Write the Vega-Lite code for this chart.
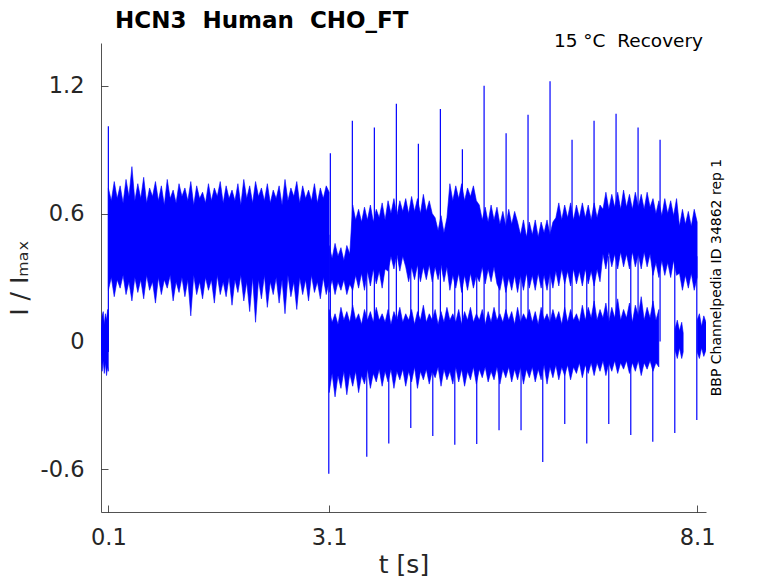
{
"$schema": "https://vega.github.io/schema/vega-lite/v6.json",
"width": 605, "height": 469,
"autosize": {"type": "none"},
"padding": {"left": 101, "top": 43, "right": 72, "bottom": 71},
"config": {"view": {"stroke": null}, "font": "DejaVu Sans"},
"title": {"text": "HCN3\u00a0 Human\u00a0 CHO_FT", "anchor": "start", "frame": "group", "dx": 14, "dy": 15, "offset": 14, "fontSize": 23, "fontWeight": "bold", "font": "DejaVu Sans", "color": "#000000"},
"datasets": {
"bands": [
{"b":"D","t":0,"l":-0.06,"h":0.06},{"b":"D","t":0.015,"l":-0.14,"h":0.12},{"b":"D","t":0.03,"l":-0.09,"h":0.14},{"b":"D","t":0.045,"l":-0.15,"h":0.08},{"b":"D","t":0.06,"l":-0.1,"h":0.13},{"b":"D","t":0.075,"l":-0.16,"h":0.1},{"b":"D","t":0.09,"l":-0.12,"h":0.15},{"b":"D","t":0.1,"l":-0.14,"h":0.12},
{"b":"A","t":0.10,"l":0.24,"h":0.72},{"b":"A","t":0.14,"l":0.30,"h":0.66},{"b":"A","t":0.18,"l":0.21,"h":0.75},{"b":"A","t":0.22,"l":0.29,"h":0.67},{"b":"A","t":0.26,"l":0.25,"h":0.73},{"b":"A","t":0.30,"l":0.31,"h":0.65},{"b":"A","t":0.34,"l":0.22,"h":0.76},{"b":"A","t":0.38,"l":0.28,"h":0.68},{"b":"A","t":0.42,"l":0.19,"h":0.82},{"b":"A","t":0.46,"l":0.30,"h":0.66},
{"b":"A","t":0.50,"l":0.23,"h":0.74},{"b":"A","t":0.54,"l":0.29,"h":0.67},{"b":"A","t":0.58,"l":0.20,"h":0.77},{"b":"A","t":0.62,"l":0.31,"h":0.65},{"b":"A","t":0.66,"l":0.24,"h":0.72},{"b":"A","t":0.70,"l":0.28,"h":0.68},{"b":"A","t":0.74,"l":0.18,"h":0.75},{"b":"A","t":0.78,"l":0.30,"h":0.66},{"b":"A","t":0.82,"l":0.22,"h":0.73},{"b":"A","t":0.86,"l":0.29,"h":0.64},
{"b":"A","t":0.90,"l":0.25,"h":0.76},{"b":"A","t":0.94,"l":0.31,"h":0.67},{"b":"A","t":0.98,"l":0.19,"h":0.71},{"b":"A","t":1.02,"l":0.28,"h":0.65},{"b":"A","t":1.06,"l":0.23,"h":0.74},{"b":"A","t":1.10,"l":0.30,"h":0.68},{"b":"A","t":1.14,"l":0.21,"h":0.72},{"b":"A","t":1.18,"l":0.29,"h":0.66},{"b":"A","t":1.22,"l":0.12,"h":0.75},{"b":"A","t":1.26,"l":0.31,"h":0.64},
{"b":"A","t":1.30,"l":0.22,"h":0.73},{"b":"A","t":1.34,"l":0.28,"h":0.67},{"b":"A","t":1.38,"l":0.20,"h":0.70},{"b":"A","t":1.42,"l":0.30,"h":0.65},{"b":"A","t":1.46,"l":0.24,"h":0.74},{"b":"A","t":1.50,"l":0.29,"h":0.66},{"b":"A","t":1.54,"l":0.18,"h":0.72},{"b":"A","t":1.58,"l":0.31,"h":0.68},{"b":"A","t":1.62,"l":0.22,"h":0.75},{"b":"A","t":1.66,"l":0.28,"h":0.65},
{"b":"A","t":1.70,"l":0.21,"h":0.73},{"b":"A","t":1.74,"l":0.30,"h":0.67},{"b":"A","t":1.78,"l":0.17,"h":0.71},{"b":"A","t":1.82,"l":0.29,"h":0.66},{"b":"A","t":1.86,"l":0.23,"h":0.74},{"b":"A","t":1.90,"l":0.31,"h":0.64},{"b":"A","t":1.94,"l":0.19,"h":0.76},{"b":"A","t":1.98,"l":0.28,"h":0.67},{"b":"A","t":2.02,"l":0.14,"h":0.73},{"b":"A","t":2.06,"l":0.30,"h":0.65},
{"b":"A","t":2.10,"l":0.09,"h":0.75},{"b":"A","t":2.14,"l":0.29,"h":0.68},{"b":"A","t":2.18,"l":0.20,"h":0.72},{"b":"A","t":2.22,"l":0.31,"h":0.66},{"b":"A","t":2.26,"l":0.16,"h":0.74},{"b":"A","t":2.30,"l":0.28,"h":0.65},{"b":"A","t":2.34,"l":0.22,"h":0.71},{"b":"A","t":2.38,"l":0.30,"h":0.67},{"b":"A","t":2.42,"l":0.18,"h":0.73},{"b":"A","t":2.46,"l":0.29,"h":0.64},
{"b":"A","t":2.50,"l":0.13,"h":0.76},{"b":"A","t":2.54,"l":0.31,"h":0.66},{"b":"A","t":2.58,"l":0.21,"h":0.72},{"b":"A","t":2.62,"l":0.28,"h":0.68},{"b":"A","t":2.66,"l":0.15,"h":0.75},{"b":"A","t":2.70,"l":0.30,"h":0.65},{"b":"A","t":2.74,"l":0.22,"h":0.73},{"b":"A","t":2.78,"l":0.29,"h":0.67},{"b":"A","t":2.82,"l":0.19,"h":0.71},{"b":"A","t":2.86,"l":0.31,"h":0.66},
{"b":"A","t":2.90,"l":0.23,"h":0.74},{"b":"A","t":2.94,"l":0.28,"h":0.65},{"b":"A","t":2.98,"l":0.20,"h":0.72},{"b":"A","t":3.02,"l":0.30,"h":0.67},{"b":"A","t":3.06,"l":0.22,"h":0.73},{"b":"A","t":3.10,"l":0.28,"h":0.70},
{"b":"B","t":3.10,"l":-0.24,"h":0.15},{"b":"B","t":3.14,"l":-0.15,"h":0.09},{"b":"B","t":3.18,"l":-0.26,"h":0.13},{"b":"B","t":3.22,"l":-0.16,"h":0.08},{"b":"B","t":3.26,"l":-0.22,"h":0.16},{"b":"B","t":3.30,"l":-0.14,"h":0.10},{"b":"B","t":3.34,"l":-0.25,"h":0.14},{"b":"B","t":3.38,"l":-0.15,"h":0.09},{"b":"B","t":3.42,"l":-0.21,"h":0.17},{"b":"B","t":3.46,"l":-0.14,"h":0.10},
{"b":"B","t":3.50,"l":-0.24,"h":0.13},{"b":"B","t":3.54,"l":-0.16,"h":0.08},{"b":"B","t":3.58,"l":-0.20,"h":0.15},{"b":"B","t":3.62,"l":-0.13,"h":0.10},{"b":"B","t":3.66,"l":-0.22,"h":0.14},{"b":"B","t":3.70,"l":-0.15,"h":0.09},{"b":"B","t":3.74,"l":-0.19,"h":0.16},{"b":"B","t":3.78,"l":-0.13,"h":0.10},{"b":"B","t":3.82,"l":-0.21,"h":0.13},{"b":"B","t":3.86,"l":-0.14,"h":0.09},
{"b":"B","t":3.90,"l":-0.19,"h":0.15},{"b":"B","t":3.94,"l":-0.13,"h":0.08},{"b":"B","t":3.98,"l":-0.22,"h":0.14},{"b":"B","t":4.02,"l":-0.14,"h":0.10},{"b":"B","t":4.06,"l":-0.18,"h":0.16},{"b":"B","t":4.10,"l":-0.13,"h":0.09},{"b":"B","t":4.14,"l":-0.21,"h":0.13},{"b":"B","t":4.18,"l":-0.14,"h":0.10},{"b":"B","t":4.22,"l":-0.19,"h":0.15},{"b":"B","t":4.26,"l":-0.12,"h":0.08},
{"b":"B","t":4.30,"l":-0.22,"h":0.14},{"b":"B","t":4.34,"l":-0.14,"h":0.10},{"b":"B","t":4.38,"l":-0.18,"h":0.17},{"b":"B","t":4.42,"l":-0.13,"h":0.09},{"b":"B","t":4.46,"l":-0.20,"h":0.13},{"b":"B","t":4.50,"l":-0.14,"h":0.10},{"b":"B","t":4.54,"l":-0.17,"h":0.15},{"b":"B","t":4.58,"l":-0.12,"h":0.08},{"b":"B","t":4.62,"l":-0.21,"h":0.14},{"b":"B","t":4.66,"l":-0.13,"h":0.09},
{"b":"B","t":4.70,"l":-0.18,"h":0.16},{"b":"B","t":4.74,"l":-0.14,"h":0.10},{"b":"B","t":4.78,"l":-0.20,"h":0.13},{"b":"B","t":4.82,"l":-0.12,"h":0.09},{"b":"B","t":4.86,"l":-0.19,"h":0.15},{"b":"B","t":4.90,"l":-0.13,"h":0.08},{"b":"B","t":4.94,"l":-0.21,"h":0.14},{"b":"B","t":4.98,"l":-0.14,"h":0.10},{"b":"B","t":5.02,"l":-0.18,"h":0.16},{"b":"B","t":5.06,"l":-0.12,"h":0.09},
{"b":"B","t":5.10,"l":-0.20,"h":0.13},{"b":"B","t":5.14,"l":-0.13,"h":0.10},{"b":"B","t":5.18,"l":-0.17,"h":0.15},{"b":"B","t":5.22,"l":-0.12,"h":0.08},{"b":"B","t":5.26,"l":-0.19,"h":0.14},{"b":"B","t":5.30,"l":-0.14,"h":0.09},{"b":"B","t":5.34,"l":-0.18,"h":0.16},{"b":"B","t":5.38,"l":-0.12,"h":0.10},{"b":"B","t":5.42,"l":-0.20,"h":0.13},{"b":"B","t":5.46,"l":-0.13,"h":0.09},
{"b":"B","t":5.50,"l":-0.17,"h":0.15},{"b":"B","t":5.54,"l":-0.12,"h":0.10},{"b":"B","t":5.58,"l":-0.19,"h":0.14},{"b":"B","t":5.62,"l":-0.13,"h":0.08},{"b":"B","t":5.66,"l":-0.18,"h":0.16},{"b":"B","t":5.70,"l":-0.12,"h":0.09},{"b":"B","t":5.74,"l":-0.20,"h":0.13},{"b":"B","t":5.78,"l":-0.13,"h":0.10},{"b":"B","t":5.82,"l":-0.17,"h":0.15},{"b":"B","t":5.86,"l":-0.12,"h":0.09},
{"b":"B","t":5.90,"l":-0.19,"h":0.14},{"b":"B","t":5.94,"l":-0.13,"h":0.08},{"b":"B","t":5.98,"l":-0.18,"h":0.16},{"b":"B","t":6.02,"l":-0.11,"h":0.10},{"b":"B","t":6.06,"l":-0.20,"h":0.13},{"b":"B","t":6.10,"l":-0.12,"h":0.09},{"b":"B","t":6.14,"l":-0.17,"h":0.15},{"b":"B","t":6.18,"l":-0.11,"h":0.10},{"b":"B","t":6.22,"l":-0.18,"h":0.14},{"b":"B","t":6.26,"l":-0.12,"h":0.08},
{"b":"B","t":6.30,"l":-0.16,"h":0.16},{"b":"B","t":6.34,"l":-0.11,"h":0.09},{"b":"B","t":6.38,"l":-0.18,"h":0.15},{"b":"B","t":6.42,"l":-0.12,"h":0.10},{"b":"B","t":6.46,"l":-0.15,"h":0.13},{"b":"B","t":6.50,"l":-0.10,"h":0.09},{"b":"B","t":6.54,"l":-0.17,"h":0.17},{"b":"B","t":6.58,"l":-0.11,"h":0.10},{"b":"B","t":6.62,"l":-0.15,"h":0.16},{"b":"B","t":6.66,"l":-0.10,"h":0.11},
{"b":"B","t":6.70,"l":-0.16,"h":0.19},{"b":"B","t":6.74,"l":-0.10,"h":0.10},{"b":"B","t":6.78,"l":-0.14,"h":0.15},{"b":"B","t":6.82,"l":-0.09,"h":0.11},{"b":"B","t":6.86,"l":-0.16,"h":0.18},{"b":"B","t":6.90,"l":-0.10,"h":0.09},{"b":"B","t":6.94,"l":-0.14,"h":0.16},{"b":"B","t":6.98,"l":-0.09,"h":0.11},{"b":"B","t":7.02,"l":-0.15,"h":0.20},{"b":"B","t":7.06,"l":-0.10,"h":0.10},
{"b":"B","t":7.10,"l":-0.13,"h":0.15},{"b":"B","t":7.14,"l":-0.09,"h":0.11},{"b":"B","t":7.18,"l":-0.15,"h":0.18},{"b":"B","t":7.22,"l":-0.10,"h":0.09},{"b":"B","t":7.26,"l":-0.14,"h":0.17},{"b":"B","t":7.30,"l":-0.09,"h":0.12},{"b":"B","t":7.34,"l":-0.16,"h":0.21},{"b":"B","t":7.38,"l":-0.10,"h":0.10},{"b":"B","t":7.42,"l":-0.13,"h":0.16},{"b":"B","t":7.46,"l":-0.09,"h":0.11},
{"b":"B","t":7.50,"l":-0.14,"h":0.19},{"b":"B","t":7.54,"l":-0.10,"h":0.10},{"b":"B","t":7.58,"l":-0.12,"h":0.15},
{"b":"C","t":3.10,"l":0.23,"h":0.45},{"b":"C","t":3.14,"l":0.29,"h":0.39},{"b":"C","t":3.18,"l":0.22,"h":0.46},{"b":"C","t":3.22,"l":0.28,"h":0.40},{"b":"C","t":3.26,"l":0.24,"h":0.44},{"b":"C","t":3.30,"l":0.29,"h":0.38},{"b":"C","t":3.34,"l":0.22,"h":0.45},{"b":"C","t":3.38,"l":0.27,"h":0.41},{"b":"C","t":3.42,"l":0.24,"h":0.64},{"b":"C","t":3.46,"l":0.31,"h":0.57},
{"b":"C","t":3.50,"l":0.25,"h":0.62},{"b":"C","t":3.54,"l":0.32,"h":0.56},{"b":"C","t":3.58,"l":0.24,"h":0.63},{"b":"C","t":3.62,"l":0.33,"h":0.57},{"b":"C","t":3.66,"l":0.26,"h":0.64},{"b":"C","t":3.70,"l":0.34,"h":0.56},{"b":"C","t":3.74,"l":0.27,"h":0.62},{"b":"C","t":3.78,"l":0.33,"h":0.58},{"b":"C","t":3.82,"l":0.25,"h":0.65},{"b":"C","t":3.86,"l":0.34,"h":0.57},
{"b":"C","t":3.90,"l":0.33,"h":0.66},{"b":"C","t":3.94,"l":0.40,"h":0.60},{"b":"C","t":3.98,"l":0.34,"h":0.67},{"b":"C","t":4.02,"l":0.41,"h":0.59},{"b":"C","t":4.06,"l":0.33,"h":0.66},{"b":"C","t":4.10,"l":0.40,"h":0.61},{"b":"C","t":4.14,"l":0.35,"h":0.67},{"b":"C","t":4.18,"l":0.28,"h":0.60},{"b":"C","t":4.22,"l":0.35,"h":0.68},{"b":"C","t":4.26,"l":0.29,"h":0.61},
{"b":"C","t":4.30,"l":0.36,"h":0.67},{"b":"C","t":4.34,"l":0.28,"h":0.60},{"b":"C","t":4.38,"l":0.35,"h":0.69},{"b":"C","t":4.42,"l":0.29,"h":0.61},{"b":"C","t":4.46,"l":0.36,"h":0.66},{"b":"C","t":4.50,"l":0.28,"h":0.60},{"b":"C","t":4.54,"l":0.35,"h":0.58},{"b":"C","t":4.58,"l":0.29,"h":0.52},{"b":"C","t":4.62,"l":0.36,"h":0.59},{"b":"C","t":4.66,"l":0.28,"h":0.51},
{"b":"C","t":4.70,"l":0.35,"h":0.58},{"b":"C","t":4.74,"l":0.24,"h":0.74},{"b":"C","t":4.78,"l":0.31,"h":0.66},{"b":"C","t":4.82,"l":0.25,"h":0.73},{"b":"C","t":4.86,"l":0.32,"h":0.67},{"b":"C","t":4.90,"l":0.23,"h":0.74},{"b":"C","t":4.94,"l":0.31,"h":0.66},{"b":"C","t":4.98,"l":0.24,"h":0.72},{"b":"C","t":5.02,"l":0.32,"h":0.68},{"b":"C","t":5.06,"l":0.25,"h":0.73},
{"b":"C","t":5.10,"l":0.31,"h":0.66},{"b":"C","t":5.14,"l":0.28,"h":0.64},{"b":"C","t":5.18,"l":0.35,"h":0.57},{"b":"C","t":5.22,"l":0.27,"h":0.63},{"b":"C","t":5.26,"l":0.34,"h":0.56},{"b":"C","t":5.30,"l":0.28,"h":0.64},{"b":"C","t":5.34,"l":0.35,"h":0.57},{"b":"C","t":5.38,"l":0.27,"h":0.63},{"b":"C","t":5.42,"l":0.24,"h":0.55},{"b":"C","t":5.46,"l":0.31,"h":0.61},
{"b":"C","t":5.50,"l":0.23,"h":0.54},{"b":"C","t":5.54,"l":0.30,"h":0.62},{"b":"C","t":5.58,"l":0.24,"h":0.55},{"b":"C","t":5.62,"l":0.31,"h":0.61},{"b":"C","t":5.66,"l":0.23,"h":0.56},{"b":"C","t":5.70,"l":0.31,"h":0.50},{"b":"C","t":5.74,"l":0.24,"h":0.57},{"b":"C","t":5.78,"l":0.32,"h":0.49},{"b":"C","t":5.82,"l":0.25,"h":0.56},{"b":"C","t":5.86,"l":0.31,"h":0.50},
{"b":"C","t":5.90,"l":0.24,"h":0.57},{"b":"C","t":5.94,"l":0.32,"h":0.49},{"b":"C","t":5.98,"l":0.25,"h":0.56},{"b":"C","t":6.02,"l":0.31,"h":0.51},{"b":"C","t":6.06,"l":0.24,"h":0.57},{"b":"C","t":6.10,"l":0.32,"h":0.50},{"b":"C","t":6.14,"l":0.25,"h":0.56},{"b":"C","t":6.18,"l":0.33,"h":0.58},{"b":"C","t":6.22,"l":0.26,"h":0.65},{"b":"C","t":6.26,"l":0.34,"h":0.57},
{"b":"C","t":6.30,"l":0.27,"h":0.64},{"b":"C","t":6.34,"l":0.33,"h":0.58},{"b":"C","t":6.38,"l":0.26,"h":0.65},{"b":"C","t":6.42,"l":0.34,"h":0.57},{"b":"C","t":6.46,"l":0.27,"h":0.64},{"b":"C","t":6.50,"l":0.33,"h":0.58},{"b":"C","t":6.54,"l":0.26,"h":0.65},{"b":"C","t":6.58,"l":0.34,"h":0.58},{"b":"C","t":6.62,"l":0.27,"h":0.64},{"b":"C","t":6.66,"l":0.33,"h":0.57},
{"b":"C","t":6.70,"l":0.26,"h":0.65},{"b":"C","t":6.74,"l":0.34,"h":0.58},{"b":"C","t":6.78,"l":0.28,"h":0.64},{"b":"C","t":6.82,"l":0.41,"h":0.62},{"b":"C","t":6.86,"l":0.34,"h":0.70},{"b":"C","t":6.90,"l":0.42,"h":0.62},{"b":"C","t":6.94,"l":0.35,"h":0.69},{"b":"C","t":6.98,"l":0.41,"h":0.63},{"b":"C","t":7.02,"l":0.34,"h":0.70},{"b":"C","t":7.06,"l":0.42,"h":0.62},
{"b":"C","t":7.10,"l":0.35,"h":0.71},{"b":"C","t":7.14,"l":0.41,"h":0.63},{"b":"C","t":7.18,"l":0.34,"h":0.69},{"b":"C","t":7.22,"l":0.42,"h":0.62},{"b":"C","t":7.26,"l":0.35,"h":0.70},{"b":"C","t":7.30,"l":0.41,"h":0.63},{"b":"C","t":7.34,"l":0.34,"h":0.69},{"b":"C","t":7.38,"l":0.42,"h":0.62},{"b":"C","t":7.42,"l":0.35,"h":0.70},{"b":"C","t":7.46,"l":0.41,"h":0.63},
{"b":"C","t":7.50,"l":0.31,"h":0.67},{"b":"C","t":7.54,"l":0.37,"h":0.60},{"b":"C","t":7.58,"l":0.30,"h":0.66},{"b":"C","t":7.62,"l":0.38,"h":0.59},{"b":"C","t":7.66,"l":0.31,"h":0.67},{"b":"C","t":7.70,"l":0.37,"h":0.60},{"b":"C","t":7.74,"l":0.30,"h":0.66},{"b":"C","t":7.78,"l":0.38,"h":0.59},{"b":"C","t":7.82,"l":0.31,"h":0.67},{"b":"C","t":7.86,"l":0.32,"h":0.54},
{"b":"C","t":7.90,"l":0.24,"h":0.62},{"b":"C","t":7.94,"l":0.31,"h":0.55},{"b":"C","t":7.98,"l":0.25,"h":0.61},{"b":"C","t":8.02,"l":0.32,"h":0.54},{"b":"C","t":8.06,"l":0.24,"h":0.62},{"b":"C","t":8.10,"l":0.30,"h":0.56},
{"b":"E","t":7.80,"l":-0.04,"h":0.06},{"b":"E","t":7.83,"l":-0.08,"h":0.10},{"b":"E","t":7.86,"l":-0.03,"h":0.05},{"b":"E","t":7.89,"l":-0.08,"h":0.09},{"b":"E","t":7.91,"l":-0.05,"h":0.04},
{"b":"F","t":8.10,"l":-0.05,"h":0.10},{"b":"F","t":8.13,"l":-0.08,"h":0.13},{"b":"F","t":8.16,"l":-0.03,"h":0.07},{"b":"F","t":8.19,"l":-0.07,"h":0.12},{"b":"F","t":8.22,"l":-0.04,"h":0.09}
],
"spikes": [
{"t":0.1,"l":-0.05,"h":1.01},
{"t":3.116,"l":0,"h":0.883},{"t":3.415,"l":0,"h":1.035},{"t":3.714,"l":0,"h":1.004},{"t":4.013,"l":0,"h":1.115},{"t":4.312,"l":0,"h":0.927},{"t":4.611,"l":0,"h":1.09},{"t":4.91,"l":0,"h":0.902},{"t":5.205,"l":0,"h":1.2},{"t":5.504,"l":0,"h":0.977},{"t":5.802,"l":0,"h":1.064},{"t":6.101,"l":0,"h":1.22},{"t":6.4,"l":0,"h":0.946},{"t":6.699,"l":0,"h":1.035},{"t":6.998,"l":0,"h":1.068},{"t":7.297,"l":0,"h":1.004},{"t":7.596,"l":0,"h":0.946},
{"t":3.095,"l":-0.621,"h":0.5},{"t":3.611,"l":-0.541,"h":0.4},{"t":3.91,"l":-0.479,"h":0.4},{"t":4.209,"l":-0.406,"h":0.4},{"t":4.508,"l":-0.444,"h":0.4},{"t":4.807,"l":-0.485,"h":0.4},{"t":5.105,"l":-0.481,"h":0.4},{"t":5.408,"l":-0.416,"h":0.4},{"t":5.707,"l":-0.416,"h":0.4},{"t":6.002,"l":-0.565,"h":0.4},{"t":6.301,"l":-0.387,"h":0.4},{"t":6.6,"l":-0.479,"h":0.4},{"t":6.899,"l":-0.387,"h":0.4},{"t":7.198,"l":-0.439,"h":0.4},{"t":7.497,"l":-0.471,"h":0.4},{"t":7.796,"l":-0.43,"h":0.4},{"t":8.095,"l":-0.368,"h":0.4}
]
},
"layer": [
{
"data": {"name": "bands"},
"mark": {"type": "area", "color": "#0000ff", "stroke": "#0000ff", "strokeWidth": 0.6, "opacity": 1, "clip": true},
"encoding": {
"x": {"field": "t", "type": "quantitative", "scale": {"domain": [0, 8.22], "nice": false, "zero": false},
"axis": {"title": "t [s]", "values": [0.1, 3.1, 8.1], "labelExpr": "toString(datum.value)", "grid": false, "domainColor": "#262626", "domainWidth": 0.8, "tickColor": "#262626", "tickSize": -7, "tickWidth": 0.8, "labelFontSize": 22.5, "labelColor": "#262626", "labelFont": "DejaVu Sans", "labelPadding": 21, "labelFlush": false, "labelOverlap": false, "titleFontSize": 25, "titleFont": "DejaVu Sans", "titleFontWeight": "normal", "titleColor": "#262626", "titlePadding": 4}},
"y": {"field": "l", "type": "quantitative", "scale": {"domain": [-0.8, 1.4], "nice": false, "zero": false},
"axis": {"title": "I / I\u2098\u2090\u2093", "values": [-0.6, 0, 0.6, 1.2], "labelExpr": "toString(datum.value)", "grid": false, "domainColor": "#262626", "domainWidth": 0.8, "tickColor": "#262626", "tickSize": -7, "tickWidth": 0.8, "labelFontSize": 22.5, "labelColor": "#262626", "labelFont": "DejaVu Sans", "labelPadding": 24, "labelFlush": false, "labelOverlap": false, "titleFontSize": 25, "titleFont": "DejaVu Sans", "titleFontWeight": "normal", "titleColor": "#262626", "titlePadding": 8}},
"y2": {"field": "h"},
"detail": {"field": "b"}
}
},
{
"data": {"name": "spikes"},
"mark": {"type": "rule", "color": "#0000ff", "strokeWidth": 1.2},
"encoding": {
"x": {"field": "t", "type": "quantitative"},
"y": {"field": "l", "type": "quantitative"},
"y2": {"field": "h"}
}
},
{
"data": {"values": [{"label": "15 °C\u00a0 Recovery"}]},
"mark": {"type": "text", "align": "right", "baseline": "middle", "fontSize": 18.5, "font": "DejaVu Sans", "color": "#000000"},
"encoding": {
"x": {"datum": 8.18, "type": "quantitative"},
"y": {"datum": 1.409, "type": "quantitative"},
"text": {"field": "label"}
}
},
{
"data": {"values": [{"label": "BBP Channelpedia ID 34862 rep 1"}]},
"mark": {"type": "text", "align": "center", "baseline": "middle", "angle": 270, "fontSize": 14, "font": "DejaVu Sans", "color": "#000000"},
"encoding": {
"x": {"datum": 8.376, "type": "quantitative"},
"y": {"datum": 0.30, "type": "quantitative"},
"text": {"field": "label"}
}
}
]
}
